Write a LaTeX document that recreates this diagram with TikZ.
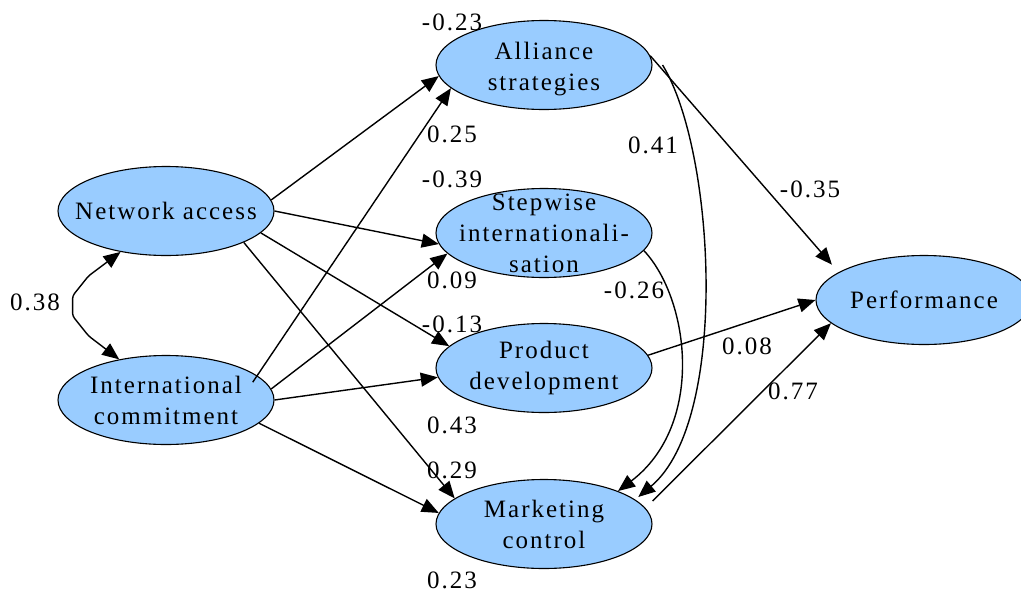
\documentclass[tikz,border=0pt]{standalone}
\usepackage{fontspec}
\setmainfont{Liberation Serif}[LetterSpace=8]
\usetikzlibrary{shapes.geometric,arrows.meta}
\definecolor{varblue}{RGB}{153,204,255}
\tikzset{
    var/.style={ellipse, draw, line width=1.1pt, fill=varblue,
        minimum width=216pt, minimum height=89pt, inner sep=0pt},
    vartext/.style={align=center, font=\fontsize{25}{31}\selectfont, inner sep=0pt},
    coef/.style={font=\fontsize{25}{31}\selectfont, inner sep=0pt},
    effect/.style={line width=1.4pt, -{Triangle[length=17pt,width=14pt]}},
    corr/.style={line width=1.4pt, {Triangle[length=17pt,width=14pt]}-{Triangle[length=17pt,width=14pt]}, rounded corners=3pt},
}

\begin{document}
\begin{tikzpicture}[x=1pt,y=-1pt]
\useasboundingbox (0,0) rectangle (1021,592);

% constructs
\node[var, label={[vartext]center:Network access}] (na) at (166,211) {};
\node[var, label={[vartext]center:International\\commitment}] (ic) at (166,400) {};
\node[var, label={[vartext, yshift=-4pt]center:Alliance\\strategies}] (al) at (544,65) {};
\node[var, label={[vartext]center:Stepwise\\internationali-\\sation}] (sw) at (544,233) {};
\node[var, label={[vartext]center:Product\\development}] (pd) at (544,368) {};
\node[var, label={[vartext]center:Marketing\\control}] (mc) at (544,524) {};
\node[var, label={[vartext]center:Performance}] (pf) at (924,300) {};

% paths
\draw[corr] (na.222) -- ++(-32,24) -- ++(-16,20) -- ++(0,20) -- ++(16,20) -- (ic.139);
\draw[effect] (na.6) -- (al.186);
\draw[effect] (na.east) -- (sw.186);
\draw[effect] (na.347) -- (pd.167);
\draw[effect] (na.338) -- (mc.164);
\draw[effect, shorten <=-8pt] (ic.15) -- (al.194);
\draw[effect] (ic.6) -- (sw.192);
\draw[effect] (ic.east) -- (pd.185);
\draw[effect] (ic.346) -- (mc.174);
\draw[effect, shorten >=10pt] (al.5) -- (pf.162);
\draw[effect, shorten >=4pt] ([xshift=10pt]al.east) .. controls (715,150) and (730,420) .. (mc.15);
\draw[effect] (sw.350) .. controls (690,300) and (705,425) .. (mc.24);
\draw[effect] (pd.7) -- (pf.west);
\draw[effect] ([yshift=23pt]mc.east) -- (pf.194);

% coefficients
\node[coef] (r1) at (35,302) {0.38};
\node[coef] (r2) at (452,22) {-0.23};
\node[coef] (r3) at (452,134) {0.25};
\node[coef] (r4) at (452,179) {-0.39};
\node[coef] (r5) at (452,280) {0.09};
\node[coef] (r6) at (452,324) {-0.13};
\node[coef] (r7) at (452,425) {0.43};
\node[coef] (r8) at (452,470) {0.29};
\node[coef] (r9) at (452,580) {0.23};
\node[coef] (r10) at (653,145) {0.41};
\node[coef] (r11) at (634,290) {-0.26};
\node[coef] (r12) at (810,189) {-0.35};
\node[coef] (r13) at (747,346) {0.08};
\node[coef] (r14) at (793,391) {0.77};
\end{tikzpicture}
\end{document}
